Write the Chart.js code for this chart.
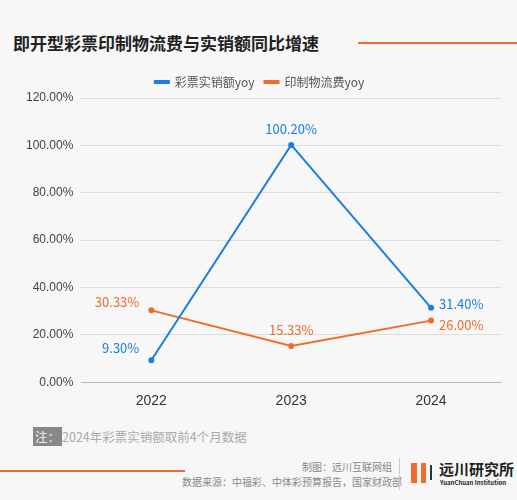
<!DOCTYPE html><html><head><meta charset="utf-8"><script src="https://cdn.jsdelivr.net/npm/chart.js@4"></script>
<style>body{margin:0;background:#f7f7f7;font-family:"Noto Sans CJK SC",sans-serif;width:517px;height:500px;position:relative;overflow:hidden}
#t{position:absolute;left:13px;top:30px;font-size:17px;font-weight:bold;color:#222}
#tl{position:absolute;left:358px;top:42px;width:159px;height:2px;background:#f26b2a}
#c{position:absolute;left:0;top:62px;width:517px;height:355px}
.f{position:absolute;font-size:10px;color:#888}
</style></head><body>
<div id="t">即开型彩票印制物流费与实销额同比增速</div><div id="tl"></div>
<div id="c"><canvas id="cv"></canvas></div>
<div class="f" style="left:33px;top:427px;font-size:12.5px;color:#aaa"><span style="background:#888;color:#eee;padding:0 2px">注：</span>2024年彩票实销额取前4个月数据</div>
<div class="f" style="left:302px;top:459px">制图：远川互联网组</div>
<div class="f" style="left:182px;top:474px">数据来源：中福彩、中体彩预算报告，国家财政部</div>
<div style="position:absolute;left:0;top:470px;width:185px;height:2px;background:#f26b2a"></div>
<div style="position:absolute;left:399px;top:458px;width:1px;height:32px;background:#ccc"></div>
<div style="position:absolute;left:411px;top:463px;width:6px;height:20px;background:#f26b2a"></div>
<div style="position:absolute;left:421px;top:463px;width:5px;height:20px;background:#f26b2a"></div>
<div style="position:absolute;left:430px;top:465px;width:2px;height:15px;background:#333"></div>
<div style="position:absolute;left:439px;top:458px;font-size:15px;font-weight:bold;color:#222">远川研究所</div>
<div style="position:absolute;left:440px;top:478px;font-size:6px;font-weight:bold;color:#222">YuanChuan Institution</div>
<script>
const categories=["2022","2023","2024"];
const salesYoy=[9.30,100.20,31.40];
const printYoy=[30.33,15.33,26.00];
const yTicks=[0,20,40,60,80,100,120];
const blue="#1a7fe0",orange="#f26b2a";
const lbl={id:"lbl",afterDatasetsDraw(ch){const c=ch.ctx;c.save();c.font="13px 'Noto Sans CJK SC'";
const pos=[[["left",-10,-18],["center",0,-16],["left",8,-4]],[["left",-10,-18],["center",0,-16],["left",8,4]]];
ch.data.datasets.forEach((d,i)=>{ch.getDatasetMeta(i).data.forEach((p,j)=>{const [a,dx,dy]=pos[i][j];let x=p.x+dx,y=p.y+dy;
if(i==0&&j==0){c.textAlign="right";x=p.x-12;y=p.y-12;}else if(i==1&&j==0){c.textAlign="right";x=p.x-12;y=p.y-8;}else c.textAlign=a;
c.fillStyle=d.borderColor;c.textBaseline="middle";c.fillText(d.data[j].toFixed(2)+"%",x,y);});});c.restore();}};
new Chart(document.getElementById("cv"),{type:"line",data:{labels:categories,datasets:[
{label:"彩票实销额yoy",data:salesYoy,borderColor:blue,backgroundColor:blue,borderWidth:2,pointRadius:2,tension:0},
{label:"印制物流费yoy",data:printYoy,borderColor:orange,backgroundColor:orange,borderWidth:2,pointRadius:2,tension:0}]},
options:{responsive:true,maintainAspectRatio:false,animation:false,layout:{padding:{left:18,right:16,top:4,bottom:4}},
plugins:{tooltip:{enabled:false},legend:{labels:{boxWidth:14,boxHeight:2,color:"#555",font:{size:12,family:"Noto Sans CJK SC"},padding:10}}},
scales:{x:{offset:true,grid:{display:false},border:{color:"#bbb"},ticks:{color:"#333",font:{size:14}}},
y:{min:0,max:120,afterBuildTicks:a=>{a.ticks=yTicks.map(v=>({value:v}))},border:{display:false},grid:{color:"#ddd",tickLength:0},ticks:{padding:8,color:"#444",font:{size:12},callback:v=>v.toFixed(2)+"%"}}}},plugins:[lbl]});
</script></body></html>
